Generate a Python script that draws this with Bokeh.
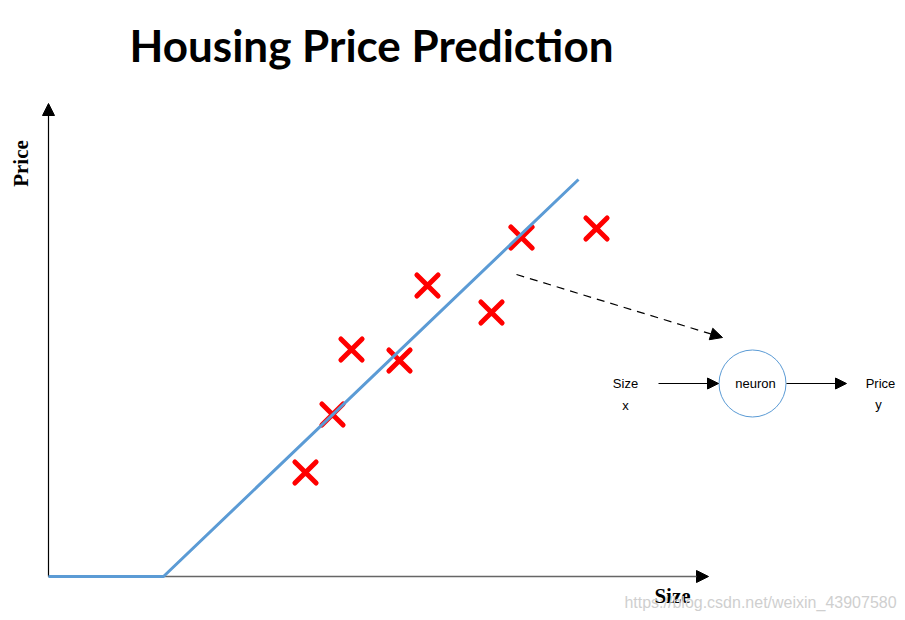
import math
from bokeh.plotting import figure
from bokeh.models import Range1d, Label, Arrow, NormalHead, ColumnDataSource
from bokeh.embed import file_html
from bokeh.resources import INLINE

# Data (Size, Price) in chart units, origin at the axes' corner
sizes = [257, 284, 303, 351, 379, 443, 473, 548]
prices = [104, 162, 227, 216, 291, 264, 339, 348]

# ReLU-like fitted line
fit_size = [0, 115, 530]
fit_price = [0, 0, 397]

title_text = "Housing Price Prediction"
x_label = "Size"
y_label = "Price"
watermark = "https://blog.csdn.net/weixin_43907580"

p = figure(width=905, height=620, output_backend="svg", toolbar_location=None,
           x_range=Range1d(-48, 857), y_range=Range1d(-44, 576),
           min_border=0, min_border_left=0, min_border_right=0,
           min_border_top=0, min_border_bottom=0)
p.axis.visible = False
p.grid.visible = False
p.outline_line_color = None
p.background_fill_color = "white"
p.border_fill_color = "white"

# axes as arrows (underneath the glyphs)
p.add_layout(Arrow(x_start=0, y_start=0, x_end=0, y_end=473, line_color="black", line_width=1.2,
                   level="underlay",
                   end=NormalHead(size=12, fill_color="black", line_color="black")))
p.add_layout(Arrow(x_start=0, y_start=0, x_end=660, y_end=0, line_color="#666666", line_width=1.5,
                   level="underlay",
                   end=NormalHead(size=12, fill_color="black", line_color="black")))

# data crosses
src = ColumnDataSource(dict(x=sizes, y=prices))
p.scatter("x", "y", source=src, marker="x", size=30, line_color="#FF0000", line_width=5,
          line_cap="round")

# fitted line
p.line(fit_size, fit_price, line_color="#5B9BD5", line_width=3)

# dashed arrow to neuron
p.add_layout(Arrow(x_start=468, y_start=302, x_end=674, y_end=239, line_color="black",
                   line_width=1.2, line_dash="8 6",
                   end=NormalHead(size=12, fill_color="black", line_color="black")))

# neuron
p.circle([704], [193], radius=33.5, fill_color="white", line_color="#5B9BD5", line_width=1)
p.add_layout(Arrow(x_start=610, y_start=193, x_end=670, y_end=193, line_color="black", line_width=1,
                   end=NormalHead(size=11, fill_color="black", line_color="black")))
p.add_layout(Arrow(x_start=738, y_start=193, x_end=798, y_end=193, line_color="black", line_width=1,
                   end=NormalHead(size=11, fill_color="black", line_color="black")))

def lab(x, y, text, size, font="Liberation Sans", style="normal", color="black", angle=0):
    p.add_layout(Label(x=x, y=y, text=text, text_font=font, text_font_size=f"{size}px",
                       text_font_style=style, text_color=color, text_align="center",
                       text_baseline="middle", angle=angle))

lab(707, 193, "neuron", 13)
lab(577, 193, "Size", 13)
lab(577, 171, "x", 13)
lab(832, 193, "Price", 13)
lab(830, 172, "y", 13)

lab(323, 532, title_text, 44, font="Lato", style="bold")
lab(-28, 413, y_label, 21, font="Liberation Serif", style="bold", angle=math.pi / 2)
lab(624, -19, x_label, 21, font="Liberation Serif", style="bold")
lab(712, -26, watermark, 16, color="#cfcfcf")

open("out.html", "w").write(file_html(p, INLINE))
